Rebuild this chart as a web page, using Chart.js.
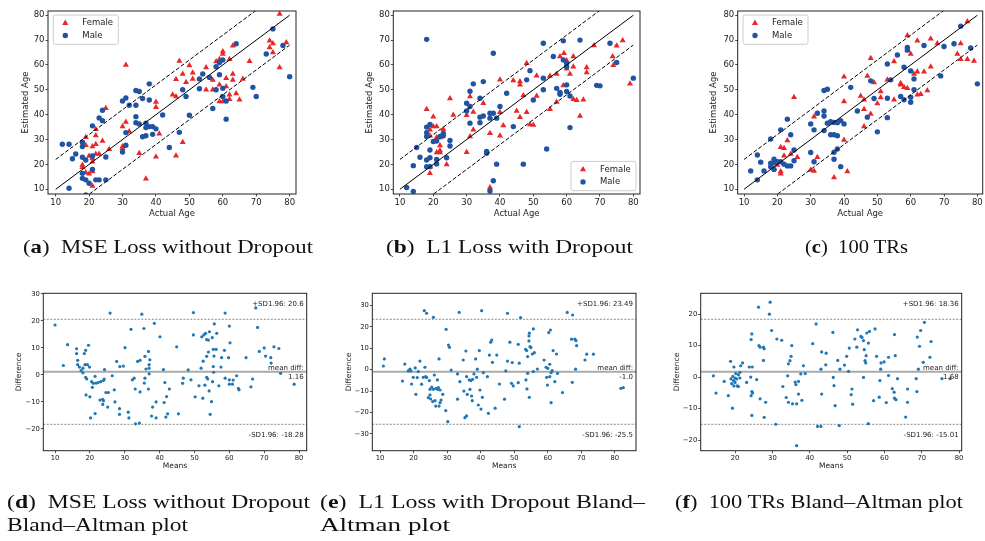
<!DOCTYPE html>
<html>
<head>
<meta charset="utf-8">
<script src="https://cdn.jsdelivr.net/npm/chart.js@4.4.0/dist/chart.umd.min.js"></script>
<style>
  body { margin: 0; background: #fff; }
  #fig { position: relative; width: 985px; height: 541px; overflow: hidden; background: #fff; }
  #fig canvas { position: absolute; left: 0; top: 0; }
  .cap { position: absolute; font-family: "Liberation Serif", serif; font-size: 19.5px; line-height: 24px;
         color: #111; white-space: nowrap; transform-origin: 0 0; }
</style>
</head>
<body>
<div id="fig">
  <canvas id="pa" width="985" height="541"></canvas>
  <canvas id="pb" width="985" height="541"></canvas>
  <canvas id="pc" width="985" height="541"></canvas>
  <canvas id="pd" width="985" height="541"></canvas>
  <canvas id="pe" width="985" height="541"></canvas>
  <canvas id="pf" width="985" height="541"></canvas>

  <div class="cap" style="left:22.7px; top:235.4px" data-w="290">(<b>a</b>)&ensp;MSE Loss without Dropout</div>
  <div class="cap" style="left:386px; top:235.4px" data-w="247">(<b>b</b>)&ensp;L1 Loss with Dropout</div>
  <div class="cap" style="left:805px; top:235.4px" data-w="103">(<b>c</b>)&ensp;100 TRs</div>
  <div class="cap" style="left:7.3px; top:489.7px" data-w="303">(<b>d</b>)&ensp;MSE Loss without Dropout</div>
  <div class="cap" style="left:7.3px; top:513.1px" data-w="181">Bland–Altman plot</div>
  <div class="cap" style="left:320px; top:489.7px" data-w="325">(<b>e</b>)&ensp;L1 Loss with Dropout Bland–</div>
  <div class="cap" style="left:320px; top:513.1px" data-w="130">Altman plot</div>
  <div class="cap" style="left:675px; top:489.7px" data-w="288">(<b>f</b>)&ensp;100 TRs Bland–Altman plot</div>
</div>
<script>
// ---- data: estimated vs actual age [actual, estimated] ----
const mseFemale = [[77,80.5],[74,69.7],[75,68.6],[79,69],[74,67],[75,65],[77,59],[68,61.5],[63,67.7],[60,65.4],[60,64.4],[58,61.4],[59,62.3],[62,62.3],[55,59],[50,59.8],[47,61.6],[48,56.4],[51,56.9],[51,54.4],[46,54.3],[49,53],[57,53.9],[55,50],[57,50],[59,52],[63,56.4],[61,54.7],[63,53.9],[66,54.4],[61,51.3],[62,48],[64,48.5],[65,46],[62,46.2],[59,45.3],[60,45.3],[45,48],[46,47.3],[40,45.1],[40,43],[41,32.3],[48,28.9],[46,23.5],[40,23.1],[35,24.5],[37,14.2],[31,60],[25,42.6],[31,37.1],[30,35.2],[32,33.2],[30,27.2],[30,26.5],[24,29.4],[22,34.1],[22,31.6],[19,30.9],[19,27.7],[22,28.1],[21,27.2],[23,24.2],[22,24.2],[26,26.1],[21,22.5],[20,23.4],[18,19.8],[18,18.9],[19,16.7],[20,16.2],[21,17.1],[21,11.3],[21,21.1]];
const mseMale = [[75,74.5],[78,67.8],[73,64.4],[64,68.5],[60,62],[59,61],[58,59.3],[59,56.1],[54,56.4],[53,54.4],[56,55],[53,50.4],[48,50],[49,47.3],[50,39.8],[58,50],[60,50.6],[60,47.3],[61,45.5],[57,42.5],[61,38.2],[69,51],[70,47.3],[80,55.3],[47,32.9],[44,26.8],[42,39.9],[38,52.4],[38,45.9],[35,49.3],[34,49.7],[36,46.5],[31,46.7],[30,45.5],[32,43.8],[34,43.8],[34,39.2],[34,36.8],[35,36.3],[37,36.6],[37,34.8],[38,35.2],[39,35.2],[40,34.3],[39,32.1],[37,31.5],[36,31.1],[31,32.8],[31,27.7],[30,25],[25,23],[25,13.8],[24,41.8],[23,38.7],[24,37.6],[21,35.5],[18,28.9],[18,27.2],[12,28.1],[14,28.1],[16,24.2],[15,22.3],[18,22.9],[19,21.8],[21,23.4],[18,16.4],[18,14.4],[19,13.8],[20,12.4],[21,18],[22,13.8],[23,13.8],[14,10.4],[19,7.7]];

const l1Female = [[76.8,69.8],[75,67.7],[73.8,63.4],[74,59.9],[79,52.4],[68.2,67.8],[59.2,64.7],[62,63.4],[58,63.4],[60,61.8],[62,59.3],[60,58.5],[61,56.4],[66,59],[66,57],[59,51.7],[57,56.4],[55,55.6],[51,55.7],[48,60.7],[51,47.5],[55,42.2],[57,45.1],[62,46.2],[63,45.8],[65,46],[64,39.5],[44,53.7],[46,53.3],[46,52],[47,47.7],[45,41.5],[46,39],[48,41],[49,36.1],[50,35.9],[41,35.6],[40,54],[40,41],[40,31.5],[37,32.5],[35,44.6],[32,41.1],[32,33.9],[31,47.3],[30,39.8],[31,31.2],[30,24.9],[25,46.5],[26,39.9],[23,34.1],[24,20],[22,30.8],[22,27.6],[22,25.6],[22,24.8],[21,24.8],[21,35.2],[20,39.2],[20,35.2],[19,33.9],[18,42.2],[19,31.5],[21,30.8],[19,16.4],[19,19.1],[37,10.7]];
const l1Male = [[18,70.3],[38,64.7],[53,68.7],[59,69.7],[64,70],[73,68.7],[75,61],[80,54.7],[69,51.8],[70,51.6],[56,63.4],[59,62],[60,60.7],[60,59.3],[58,48.9],[58,48.2],[57,50.6],[60,52],[60,49.3],[61,47.5],[61,34.8],[53,54.7],[53,50],[50,45.9],[49,57.7],[48,54],[42,48.6],[40,43.3],[44,35.2],[54,26.2],[47,20.1],[39,20.1],[39,38.6],[37,40.6],[38,40.6],[37,38.6],[36,25.2],[36,24.5],[38,13.4],[37,9.3],[35,53.3],[35,39.5],[34,39],[34,36.8],[34,46.6],[32,52.4],[31,49.4],[31,43.3],[31,36.6],[30,44.6],[30,41.5],[25,29.6],[25,27.4],[23,32.5],[23,31.5],[22,31.2],[21,29.4],[20,29.2],[24,22.7],[21,22],[21,20.2],[19,25.8],[19,22.7],[18,21.8],[19,19.1],[18,19.1],[19,36.1],[18,35],[18,32.8],[18,31.2],[16,22.9],[15,26.8],[14,19.5],[12,10.7],[14,9.1]];

const trFemale = [[77,77.5],[59,71.8],[66,70.5],[62,69.7],[59,65.8],[60,64.4],[68,68.6],[75,68.6],[74,64.4],[75,62.3],[77,62.3],[79,61.6],[66,59.3],[64,57.3],[62,57.3],[61,56.4],[63,48.2],[62,48],[65,49.7],[59,50.6],[58,51],[57,52],[57,52.6],[55,46],[55,61.4],[53,54],[51,49.3],[51,46.9],[50,44.5],[49,52.9],[47,55.6],[48,62.7],[45,47.5],[46,46],[46,42.2],[46,35.2],[48,40.3],[40,55.3],[40,45.3],[40,29.8],[41,17.1],[37,14.7],[31,39.2],[30,17.8],[31,17.4],[32,22.9],[25,47],[23,29.6],[24,24.2],[22,26.5],[21,26.9],[22,23.5],[21,17.1],[21,16.2],[26,22.9],[19,18.4],[20,19.8]];
const trMale = [[75,75.6],[78,66.8],[73,68.5],[70,67.4],[64,67.8],[59,67],[59,66],[56,64],[53,60.4],[58,59.1],[60,57.6],[61,54.4],[61,50],[69,55.6],[80,52.4],[54,54],[53,46.6],[57,47.3],[58,46],[60,47],[60,45],[53,38.8],[50,33.1],[49,46.5],[48,53.6],[47,39],[42,51],[44,41.5],[40,36.3],[39,37.6],[38,36.8],[37,36.9],[36,37.2],[35,36.6],[35,50.2],[34,49.7],[34,41.5],[34,39.5],[34,33.6],[36,31.9],[37,31.9],[38,31.5],[38,26.2],[37,24.9],[37,22.1],[39,19.1],[32,40.6],[31,33.9],[31,21.1],[30,36.3],[30,24.8],[23,38.2],[24,31.9],[21,33.9],[18,30.2],[25,25.8],[25,21.5],[24,19.4],[23,19.4],[22,20.1],[21,21.1],[20,21.1],[19,22.1],[19,20.7],[18,20.5],[18,19.1],[19,18],[14,23.8],[15,20.9],[16,17.4],[12,17.4],[14,13.8]];

// identity line and +/- band
const identityLine = [[10,10],[80,80]];
const upperBand = [[10,22],[80,92]];
const lowerBand = [[10,-2],[80,68]];

// ---- data: Bland-Altman [mean, difference] ----
const baMse = [[10,18.5],[12.4,3.5],[13.6,11.2],[16.2,9.7],[16.2,7.9],[16.5,5.4],[16.5,3.8],[17,2.9],[17.5,1.6],[18,2.5],[18,0.8],[18.4,7.9],[18.6,3.8],[18.8,9.1],[18.8,-0.9],[19.1,-1.5],[19.3,3.8],[19.6,11],[19.9,2.9],[18.9,-7.4],[20,-8.1],[20.2,-15.9],[20.5,-2.5],[20.7,-4.6],[21,-3.1],[21.5,-0.5],[21.5,-14.3],[21.8,-3],[22.4,-2.8],[22.9,-9.3],[23.1,-2.5],[23.7,-9],[23.7,-10.9],[23.9,-2.1],[23.9,-9.6],[24.1,-1.5],[24.2,2],[24.6,-6.5],[25.3,-6.5],[25.1,-11.9],[25.8,22.9],[26.4,-0.3],[27,-5.5],[27.2,-10],[27.7,5],[28.5,-12.5],[28.5,-14.6],[28.6,3.1],[29.6,3.3],[30.1,10.1],[31,-13.8],[31.2,-15.9],[31.8,16.9],[32.2,-1.8],[32.7,-1.2],[33,-5.2],[33.1,-18.1],[33.7,5],[34.2,-17.8],[34.4,-6.3],[34.4,5.4],[34.9,22.5],[35.5,17.2],[35.6,-3],[35.8,6.9],[35.8,-1.2],[36.1,2.2],[36.8,8.7],[36.8,-5.2],[37.2,5.6],[37,3.8],[37,2.5],[37,0.4],[37.7,-15.2],[38,-11.9],[38.5,19.1],[39,-10],[39,-15.9],[40.1,14.1],[41.1,2],[41.3,-10.2],[41.5,-2.8],[41.8,-15.6],[42,-8],[42.3,-14.4],[42.8,-5.2],[44.9,10.4],[45.4,-14.4],[46.6,-3.1],[46.8,-1.2],[48.2,1.9],[49,-1.8],[49.7,23.1],[49.7,14.8],[50.2,-8.1],[51.3,-4],[51.9,2.5],[52.1,14.1],[52.4,-8.6],[52.5,5.1],[52.7,14.8],[53,-3.8],[53.2,15.4],[53.5,6.9],[53.5,-0.9],[53.5,13.1],[53.8,-1.5],[54,8.5],[54,12.9],[54.2,-5.9],[54.3,16],[54.5,-14.6],[54.9,-9.9],[55.1,13.8],[55.2,-2.5],[55.4,9.5],[55.4,3.1],[55.5,1],[55.6,7],[55.7,18.9],[56.2,9.5],[56.4,15.4],[57,-4],[57.8,6.4],[57.6,2.9],[58.6,9.1],[58.8,22.9],[58.8,-1.2],[59.8,6.4],[60,18.1],[60,-1.8],[60,-3.4],[60.2,11.9],[60.9,-3.4],[61.1,-1.9],[62.1,-0.3],[62.6,-5],[62.8,-5.5],[64.8,6.4],[66.2,-4.4],[66.7,-1.5],[67.6,24.8],[68.1,17.6],[68.6,8.7],[70,10],[70.4,7],[71.9,6.4],[72,4.4],[72.8,10.4],[74.2,9.8],[74.7,0.6],[78.6,-3.4]];
const baL1 = [[11.3,5],[11,1.7],[16.7,-5.3],[17.4,2.6],[18.4,-0.6],[18.9,0.2],[19.2,-0.6],[19.4,-6.7],[19.9,-3.6],[20.5,0.8],[20.7,-11.5],[21.1,-3.7],[21.4,-0.9],[21.9,4],[22.4,-6.8],[22.9,-3.6],[23.2,27.5],[23.4,1.1],[23.6,-3.3],[23.9,26.3],[23.9,-3.7],[24.4,-13.1],[24.7,-5.1],[24.9,-9.2],[24.9,-11.8],[25.1,-13.7],[25.4,-8.2],[25.7,-14.9],[25.9,24.4],[25.9,-9.2],[26.2,-2.5],[26.4,-14.5],[26.6,-17],[26.7,-8.7],[27.1,-4.8],[27.2,-9.2],[27.4,-8.4],[27.6,5],[27.6,-17],[27.9,-9.5],[27.9,-15.4],[28.2,-14.2],[28.7,-11.5],[29.6,-19.1],[29.7,18.8],[30.2,-24.3],[30.4,11.5],[30.7,10.4],[31.2,-0.2],[33.1,-13.8],[33.1,-2],[33.6,26.7],[33.8,-5.6],[34.8,4.5],[35,-10],[35.3,-22.4],[35.8,-21.6],[35.6,8.7],[35.8,-3.3],[36,-11.5],[36.6,-4.8],[36.8,-9.2],[37.1,-5.1],[37.3,-12.3],[37.5,-14.5],[37.6,-4.5],[38,-2],[38.5,5],[38.8,-3.6],[39,0.2],[39.3,-16.5],[39.6,8.9],[39.8,-9.5],[40.1,-18.4],[40.3,27.5],[40.5,-12.9],[40.8,-1.4],[42,-3.3],[42.3,-20.4],[42.6,6.8],[43,12.8],[43.3,13.8],[43.5,3.4],[44.3,-18],[44.8,6.8],[45.6,-6.7],[47.1,-13.8],[47.5,-0.6],[48,26.3],[48,4],[48.7,12.8],[49.2,-6.4],[49.4,3.3],[49.7,-7.6],[51.2,-6.1],[51.2,11.8],[51.5,-26.6],[51.5,3],[51.9,24.3],[53.4,9.5],[53.5,-4.8],[53.7,8.9],[53.8,-9],[54,-1.7],[54,6.1],[54.4,15.7],[54.4,13.4],[54.5,17],[54.5,-12.9],[54.7,10.7],[55,10.3],[55.4,7.3],[55.7,19],[55.7,-0.9],[56,7.9],[56.9,0.3],[58.9,4.5],[59.5,1.1],[59.7,-3.6],[59.9,-7.2],[60,0.6],[60.3,17.3],[60.6,-3.3],[60.6,2.5],[60.8,18.5],[61,-15.4],[61,-1.4],[61.3,-0.5],[61.6,8.9],[62.1,-5.6],[62.6,7.3],[62.9,-1.7],[64.4,-10.7],[65.8,26.7],[67.1,14.2],[67.3,-5.9],[67.4,25.5],[68.1,14.2],[68.3,0.2],[68.4,13.5],[68.6,11.2],[71.1,4.5],[71.6,7.2],[73.6,7.2],[81.8,-8.7],[82.5,-8.4]];
const baTr = [[14.2,0.4],[14.9,-5.1],[17.1,-1.4],[18.2,-5.9],[18.8,5],[18.9,-0.6],[19.1,-2.1],[19.3,-9.9],[19.4,0.2],[19.6,-1.1],[19.7,3.2],[19.7,-2.8],[20,-0.3],[20,-1.7],[20.2,1.1],[20.4,-0.6],[20.6,-2.8],[20.9,-3],[20.9,0.7],[21.3,1.5],[21.3,-0.3],[21.5,3.6],[22,4.5],[23.1,-1.7],[23.8,3.2],[24.2,0],[24.3,11.9],[24.5,13.7],[24.5,-4.6],[24.3,-5.9],[24.6,3.2],[24.7,-5.1],[24.5,-12.2],[25.8,-0.8],[26.3,22.2],[26.4,10],[26.7,9.5],[26.7,-6.9],[27.6,5.3],[27.6,9.5],[27.8,9],[27.8,-12.8],[28.2,-8],[29.2,20],[29.4,23.8],[29.8,14.8],[30.9,-15],[31.2,12.1],[32.5,11.7],[32.8,-3],[33.7,-6.5],[34.1,0.4],[34.3,4.2],[34.3,-8],[34.7,5.2],[35,6.6],[35.2,10],[35.4,-8.5],[36.1,-1.6],[36.3,-2.4],[36.5,-8.5],[36.5,-21.8],[37,-1.4],[37,-5.4],[37.6,1],[37.9,-7.4],[38.3,3.6],[38.8,1.1],[40.8,10.6],[41.7,16.9],[42.1,-15.7],[43,2.5],[43,-15.7],[43.2,-5.4],[43.2,8],[44.3,3.9],[44.4,7.6],[46.2,14.2],[46.3,-0.1],[46.5,-2.7],[46.8,-9.1],[47.5,5.3],[47.9,-15.4],[48.1,2.5],[49.3,3.8],[49.9,6.6],[50.4,1.8],[50.6,9.2],[51.1,-5.6],[51.3,-3.8],[51.5,-8.6],[52.1,12.1],[52.6,9.5],[52.8,15],[53.7,12.9],[54,12.6],[54.4,-0.1],[54.4,11.6],[54.6,8.7],[54.8,5.2],[55,4.5],[55.1,6.8],[55.3,14],[55.7,10.8],[55.7,-14.8],[56,14.5],[57.1,-7.5],[57.5,15.3],[57.9,6.6],[58.6,-6.4],[58.8,-1.1],[59,2.5],[59.1,4.5],[59.9,4.8],[60.5,-8.1],[61.1,6.3],[61.1,0.5],[62.1,-3.7],[62.6,-4.8],[62.7,-6.7],[62.7,13.5],[62.9,6.8],[63.1,-7.2],[63.5,-0.5],[65.7,-12.7],[66.2,-3.8],[66.2,-8],[68.5,-0.5],[68.7,-4.6],[68.8,12.7],[69.1,2.5],[69.4,9.8],[69.7,14.8],[70.4,4.7],[70.7,17.4],[72.2,6.3],[72.5,11.3],[75.4,-0.5],[77.6,-0.5]];

// Bland-Altman limits (d, e, f)
const baUpper = [20.6, 23.49, 18.36];
const baMean = [1.16, -1.0, 1.68];
const baLower = [-18.28, -25.5, -15.01];
const baUpperText = ['20.6', '23.49', '18.36'];
const baMeanText = ['1.16', '-1.0', '1.68'];
const baLowerText = ['-18.28', '-25.5', '-15.01'];

// tick labels
const ageTicks = [10, 20, 30, 40, 50, 60, 70, 80];
const meansTicksDE = [10, 20, 30, 40, 50, 60, 70, 80];
const meansTicksF = [20, 30, 40, 50, 60, 70, 80];
const diffTicksD = [-20, -10, 0, 10, 20, 30];
const diffTicksE = [-30, -20, -10, 0, 10, 20, 30];
const diffTicksF = [-20, -10, 0, 10, 20];

const W = 985, H = 541;
const RED = '#e8272a';
const BLUE = '#2153a3';
const DOT = '#1f77b4';
const INK = '#222';
Chart.defaults.font.family = 'DejaVu Sans';

const toXY = arr => arr.map(p => ({x: p[0], y: p[1]}));
const fmt = v => v < 0 ? '\u2212' + Math.abs(v) : String(v);

// spines on all four sides
const framePlugin = {
    id: 'frame',
    afterDraw(chart) {
        const {ctx, chartArea: a} = chart;
        ctx.save();
        ctx.strokeStyle = INK;
        ctx.lineWidth = 1;
        ctx.strokeRect(a.left, a.top, a.right - a.left, a.bottom - a.top);
        ctx.restore();
    }
};

// Female / Male legend box inside the plot
const sexLegend = {
    id: 'sexLegend',
    afterDraw(chart, args, opts) {
        if (!opts.corner) return;
        const {ctx, chartArea: a} = chart;
        const bw = 65, bh = 29.3;
        let x0, y0;
        if (opts.corner === 'tl') { x0 = a.left + 5.3; y0 = a.top + 4; }
        else { x0 = a.right - 4 - bw; y0 = a.bottom - 3.3 - bh; }
        ctx.save();
        ctx.fillStyle = 'rgba(255,255,255,0.85)';
        ctx.strokeStyle = '#cccccc';
        ctx.lineWidth = 1;
        ctx.beginPath();
        ctx.roundRect(x0, y0, bw, bh, 2);
        ctx.fill();
        ctx.stroke();
        const mx = x0 + 12, tx = x0 + 29;
        const r1 = y0 + 8, r2 = y0 + 20.5;
        ctx.fillStyle = RED;
        ctx.beginPath();
        ctx.moveTo(mx, r1 - 3.5);
        ctx.lineTo(mx + 3.1, r1 + 1.9);
        ctx.lineTo(mx - 3.1, r1 + 1.9);
        ctx.closePath();
        ctx.fill();
        ctx.fillStyle = BLUE;
        ctx.beginPath();
        ctx.arc(mx, r2, 2.7, 0, Math.PI * 2);
        ctx.fill();
        ctx.fillStyle = INK;
        ctx.font = '8.5px "DejaVu Sans"';
        ctx.textBaseline = 'middle';
        ctx.fillText('Female', tx, r1);
        ctx.fillText('Male', tx, r2);
        ctx.restore();
    }
};

// mean / SD annotations on Bland-Altman plots
const baText = {
    id: 'baText',
    afterDraw(chart, args, opts) {
        if (opts.index === undefined) return;
        const i = opts.index;
        const {ctx, chartArea: a} = chart;
        const x = a.right - 3;
        ctx.save();
        ctx.fillStyle = INK;
        ctx.font = '7px "DejaVu Sans"';
        ctx.textAlign = 'right';
        ctx.textBaseline = 'middle';
        ctx.fillText('+SD1.96: ' + baUpperText[i], x, a.top + 10.5);
        ctx.fillText('mean diff:', x, a.top + 74.7);
        ctx.fillText(baMeanText[i], x, a.top + 83.4);
        ctx.fillText('-SD1.96: ' + baLowerText[i], x, a.top + 141.7);
        ctx.restore();
    }
};

function axis(cfg) {
    const lh = cfg.titleSize * 1.2;
    const horizontal = cfg.pos === 'x';
    return {
        type: 'linear',
        min: cfg.min,
        max: cfg.max,
        afterBuildTicks: s => { s.ticks = cfg.ticks.map(v => ({value: v})); },
        afterFit: s => {
            if (horizontal) { s.height = H - cfg.area[3]; s.paddingLeft = 0; s.paddingRight = 0; }
            else { s.width = cfg.area[0]; s.paddingTop = 0; s.paddingBottom = 0; }
        },
        border: { display: false },
        grid: { drawOnChartArea: false, tickLength: 2.5, color: INK, lineWidth: 0.8 },
        ticks: { font: { size: cfg.tickSize }, color: INK, padding: 1, maxRotation: 0, autoSkip: false, callback: fmt },
        title: {
            display: true, text: cfg.title, color: INK,
            font: { size: cfg.titleSize },
            padding: horizontal ? { top: 0, bottom: H - cfg.titleAt - lh / 2 } : { top: cfg.titleAt - lh / 2, bottom: 0 }
        }
    };
}

function makeChart(id, area, datasets, xCfg, yCfg, pluginOpts) {
    return new Chart(document.getElementById(id), {
        type: 'scatter',
        data: { datasets: datasets },
        options: {
            responsive: false,
            animation: false,
            events: [],
            layout: { padding: { left: 0, top: area[1], right: W - area[2], bottom: 0 }, autoPadding: false },
            plugins: Object.assign({ legend: { display: false }, tooltip: { enabled: false } }, pluginOpts),
            scales: {
                x: axis(Object.assign({ pos: 'x', area: area }, xCfg)),
                y: axis(Object.assign({ pos: 'y', area: area }, yCfg))
            }
        },
        plugins: [framePlugin, sexLegend, baText]
    });
}

function ageSets(female, male) {
    const ref = (pts, dash) => ({
        data: toXY(pts), showLine: true, pointRadius: 0, borderColor: '#000',
        borderWidth: 1, borderDash: dash, order: 0
    });
    return [
        ref(identityLine, []),
        ref(upperBand, [4, 2]),
        ref(lowerBand, [4, 2]),
        { label: 'Male', data: toXY(male), pointStyle: 'circle', pointRadius: 2.7,
          pointBackgroundColor: BLUE, pointBorderColor: BLUE, pointBorderWidth: 0, order: 1 },
        { label: 'Female', data: toXY(female), pointStyle: 'triangle', pointRadius: 3.5,
          pointBackgroundColor: RED, pointBorderColor: RED, pointBorderWidth: 0, order: 2 }
    ];
}

function baSets(points, i, xMin, xMax) {
    const hline = (v, color, width, dash) => ({
        data: [{x: xMin, y: v}, {x: xMax, y: v}], showLine: true, pointRadius: 0,
        borderColor: color, borderWidth: width, borderDash: dash, order: 2
    });
    return [
        { data: toXY(points), pointRadius: 1.6, pointBackgroundColor: DOT, pointBorderColor: DOT,
          pointBorderWidth: 0, order: 1 },
        hline(baMean[i], '#aaaaaa', 2, []),
        hline(baUpper[i], '#7a7a7a', 0.9, [2, 1.5]),
        hline(baLower[i], '#7a7a7a', 0.9, [2, 1.5])
    ];
}

// top row: estimated vs actual age
const ageY = { min: 8.1, max: 81.7, ticks: ageTicks, title: 'Estimated Age', tickSize: 8.5, titleSize: 8.5 };
const ageX = { ticks: ageTicks, title: 'Actual Age', tickSize: 8.5, titleSize: 8.5, titleAt: 214 };

makeChart('pa', [48, 11, 296, 194], ageSets(mseFemale, mseMale),
    Object.assign({ min: 7.7, max: 81.9 }, ageX), Object.assign({ titleAt: 26 }, ageY),
    { sexLegend: { corner: 'tl' } });
makeChart('pb', [393.3, 11, 640, 194], ageSets(l1Female, l1Male),
    Object.assign({ min: 8.0, max: 82.0 }, ageX), Object.assign({ titleAt: 369.3 }, ageY),
    { sexLegend: { corner: 'br' } });
makeChart('pc', [737.7, 11, 982.7, 194], ageSets(trFemale, trMale),
    Object.assign({ min: 8.1, max: 81.6 }, ageX), Object.assign({ titleAt: 713.3 }, ageY),
    { sexLegend: { corner: 'tl' } });

// bottom row: Bland-Altman
const baX = { title: 'Means', tickSize: 6.8, titleSize: 7.5, titleAt: 466 };
const baY = { title: 'Difference', tickSize: 6.8, titleSize: 7.5 };

makeChart('pd', [43.3, 293.3, 306.7, 450.7], baSets(baMse, 0, 6.64, 82.2),
    Object.assign({ min: 6.64, max: 82.2, ticks: meansTicksDE }, baX),
    Object.assign({ min: -28.05, max: 30.23, ticks: diffTicksD, titleAt: 19 }, baY),
    { baText: { index: 0 } });
makeChart('pe', [372.3, 293.3, 636, 450.7], baSets(baL1, 1, 7.7, 86.3),
    Object.assign({ min: 7.7, max: 86.3, ticks: meansTicksDE }, baX),
    Object.assign({ min: -37.83, max: 35.62, ticks: diffTicksE, titleAt: 349 }, baY),
    { baText: { index: 1 } });
makeChart('pf', [700.7, 293.3, 961.7, 450.7], baSets(baTr, 2, 10.8, 80.7),
    Object.assign({ min: 10.8, max: 80.7, ticks: meansTicksF }, baX),
    Object.assign({ min: -23.4, max: 26.62, ticks: diffTicksF, titleAt: 676.7 }, baY),
    { baText: { index: 2 } });

// fit caption widths to the original typesetting
document.querySelectorAll('.cap').forEach(el => {
    const w = el.getBoundingClientRect().width;
    el.style.transform = 'scaleX(' + (el.dataset.w / w) + ')';
});
</script>
</body>
</html>
